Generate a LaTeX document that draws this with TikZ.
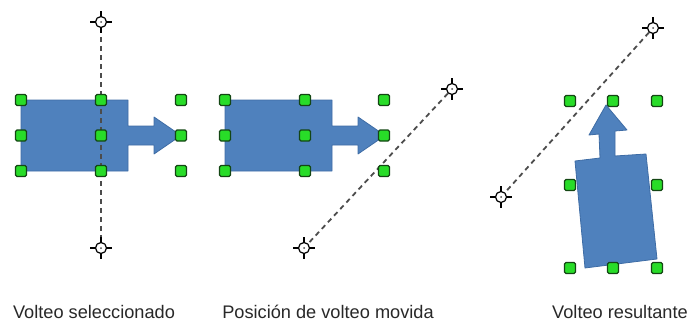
\documentclass[tikz,border=0pt]{standalone}
\usepackage{fontspec}
\setmainfont{Liberation Sans}
\definecolor{shapeblue}{RGB}{79,129,189}
\definecolor{shapeedge}{RGB}{62,108,165}
\definecolor{handlegreen}{RGB}{40,220,40}
\definecolor{handleedge}{RGB}{20,70,20}
\definecolor{labelgray}{RGB}{40,40,40}

\begin{document}
\begin{tikzpicture}[x=1pt,y=-1pt,
    every node/.style={font=\fontsize{18.2}{20}\selectfont, text=labelgray},
    handle/.style={draw=handleedge, fill=handlegreen, line width=1.3pt, rounded corners=1.5pt, minimum size=11pt, inner sep=0pt},
    pivot/.style={draw=black, circle, line width=1.2pt, minimum size=11pt, inner sep=0pt, fill=white},
    flipline/.style={draw=black!70, dashed, dash pattern=on 5pt off 4pt, line width=1.8pt},
    blueshape/.style={fill=shapeblue, draw=shapeedge, line width=0.8pt, line join=round}]
    \useasboundingbox (0,0) rectangle (691,321);

    % shapes
    \draw[blueshape] (21,100) -- (128,100) -- (128,126) -- (154,126) -- (154,117) -- (181,135.5) -- (154,154) -- (154,145) -- (128,145) -- (128,171) -- (21,171) -- cycle;
    \draw[blueshape] (225,100) -- (332,100) -- (332,126) -- (358,126) -- (358,117) -- (385,135.5) -- (358,154) -- (358,145) -- (332,145) -- (332,171) -- (225,171) -- cycle;
    \draw[blueshape] (575,161) -- (600,158) -- (599,134) -- (589,135) -- (606,105) -- (627,130) -- (615,131) -- (615,156) -- (646,154) -- (657,259) -- (585,268) -- cycle;

    % flip axes
    \node[pivot] (a1) at (101,22) {};
    \node[pivot] (a2) at (101,248) {};
    \node[pivot] (b1) at (452,89) {};
    \node[pivot] (b2) at (304,248) {};
    \node[pivot] (c1) at (653,28) {};
    \node[pivot] (c2) at (501,197) {};
    \draw[flipline] (a1) -- (a2);
    \draw[flipline] (b1) -- (b2);
    \draw[flipline] (c1) -- (c2);
    \foreach \p in {a1,a2,b1,b2,c1,c2} {
        \draw[line width=1.2pt] (\p.north) -- ++(0,-5);
        \draw[line width=1.2pt] (\p.south) -- ++(0,5);
        \draw[line width=1.2pt] (\p.east) -- ++(5,0);
        \draw[line width=1.2pt] (\p.west) -- ++(-5,0);
        \fill[black!70] (\p.center) circle (1pt);
    }

    % selection handles
    \foreach \x [count=\i] in {21,101,181}
        \foreach \y [count=\j] in {100,135.5,171}
            \node[handle] (h1-\i-\j) at (\x,\y) {};
    \foreach \x [count=\i] in {225,305,384}
        \foreach \y [count=\j] in {100,135.5,171}
            \node[handle] (h2-\i-\j) at (\x,\y) {};
    \foreach \x/\y/\n in {570/101/nw,613/101/n,657/101/ne,570/185/w,657/185/e,570/268/sw,613/268/s,657/268/se}
        \node[handle] (h3-\n) at (\x,\y) {};

    % captions
    \node[anchor=base] (cap1) at (94,318) {Volteo seleccionado};
    \node[anchor=base] (cap2) at (328,318) {Posición de volteo movida};
    \node[anchor=base] (cap3) at (620,318) {Volteo resultante};
\end{tikzpicture}
\end{document}
